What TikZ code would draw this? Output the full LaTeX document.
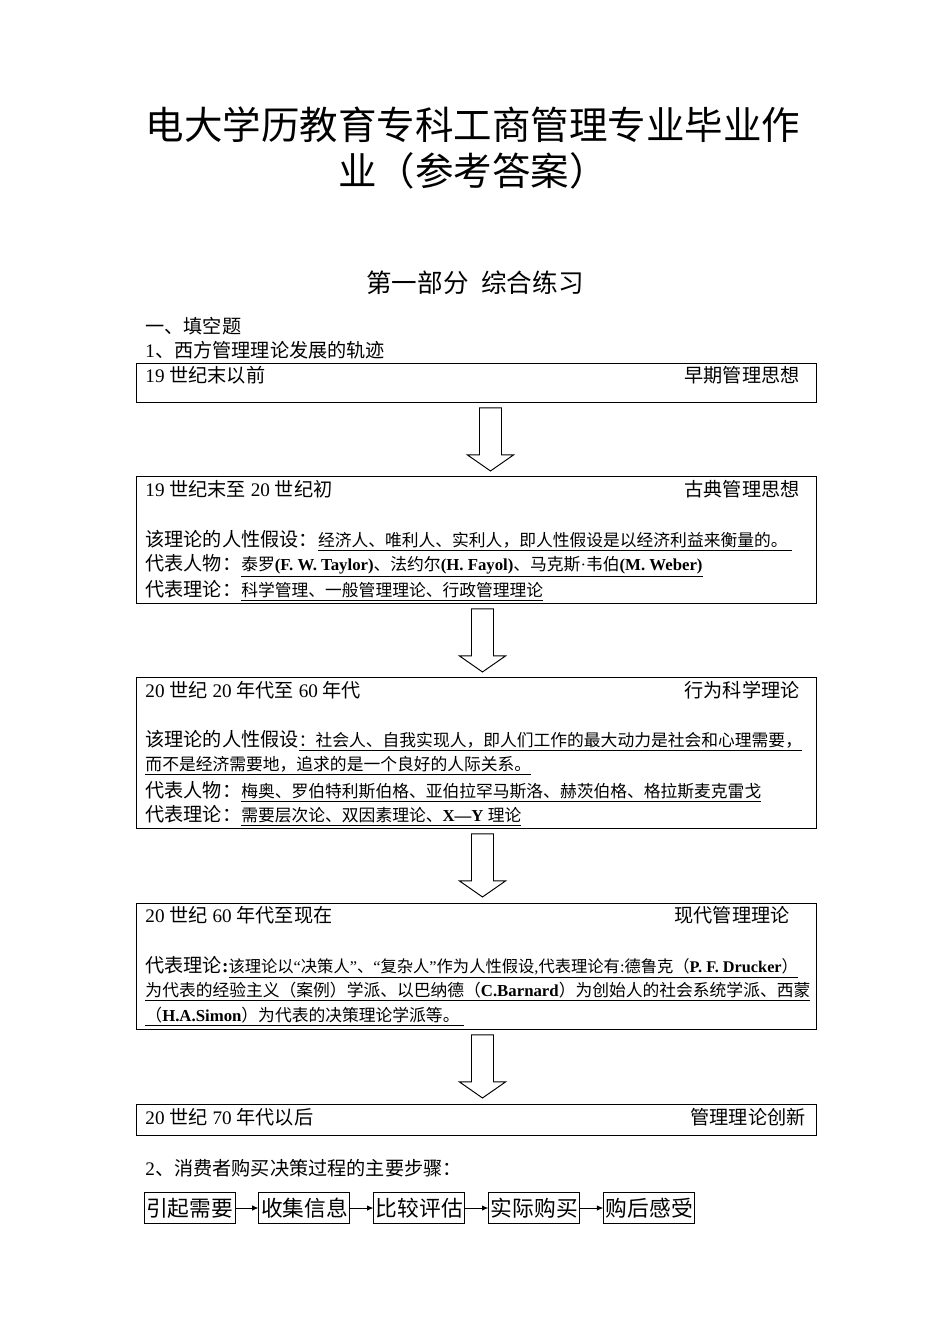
\documentclass[tikz,border=0pt]{standalone}
\usepackage{fontspec}
\setmainfont{Liberation Serif}
\newfontfamily\cjk{Noto Sans CJK SC}
\usetikzlibrary{positioning,calc,arrows.meta}

\newcommand{\px}{0.626pt}
\newcommand{\lat}[1]{{\rmfamily #1}}
\newcommand{\ans}[1]{{\fontsize{10.5}{12}\selectfont\underline{#1}}}

\begin{document}
\begin{tikzpicture}[
    x=0.626pt, y=-0.626pt,
    line width=0.6pt,
    node distance=14.4pt,
    txt/.style={anchor=west, inner sep=0pt, font=\cjk\fontsize{12}{14}\selectfont},
    school/.style={txt, anchor=east},
    era/.style={draw, anchor=north west, inner sep=0pt, minimum width=680*\px},
    stepbox/.style={draw, inner sep=0.5pt, minimum width=91*\px, minimum height=31*\px,
        font=\cjk\fontsize{13.6}{15}\selectfont}
]
    \useasboundingbox (0,0) rectangle (950,1344);

    % Title
    \node[align=center, font=\cjk\fontsize{24.1}{29.4}\selectfont] (title) at (473,148)
        {电大学历教育专科工商管理专业毕业作\\业（参考答案）};
    \node[font=\cjk\fontsize{16}{18}\selectfont] (part) at (475,283) {第一部分\hspace{0.5em}综合练习};
    \node[txt] (fill_in) at (145,326) {一、填空题};
    \node[txt] (q_one) at (145,350) {\lat{1}、西方管理理论发展的轨迹};

    % Eras
    \node[era, minimum height=39*\px] (era1) at (136,363) {};
    \node[era, minimum height=127*\px] (era2) at (136,476) {};
    \node[era, minimum height=151*\px] (era3) at (136,677) {};
    \node[era, minimum height=126*\px] (era4) at (136,903) {};
    \node[era, minimum height=31*\px] (era5) at (136,1104) {};

    % Era texts
    \node[txt] (era1_time) at (145,375) {\lat{19 }世纪末以前};
    \node[school] (era1_school) at (800,375) {早期管理思想};

    \node[txt] (era2_time) at (145,489) {\lat{19 }世纪末至\lat{ 20 }世纪初};
    \node[school] (era2_school) at (800,489) {古典管理思想};
    \node[txt] (era2_hyp) at (145,541) {该理论的人性假设：\ans{经济人、唯利人、实利人，即人性假设是以经济利益来衡量的。\hspace{3pt}}};
    \node[txt] (era2_people) at (145,566) {代表人物：\ans{泰罗\lat{\textbf{(F. W. Taylor)}}、法约尔\lat{\textbf{(H. Fayol)}}、马克斯\lat{·}韦伯\lat{\textbf{(M. Weber)}}}};
    \node[txt] (era2_theory) at (145,591) {代表理论：\ans{科学管理、一般管理理论、行政管理理论}};

    \node[txt] (era3_time) at (145,690) {\lat{20 }世纪\lat{ 20 }年代至\lat{ 60 }年代};
    \node[school] (era3_school) at (800,690) {行为科学理论};
    \node[txt] (era3_hyp) at (145,741) {该理论的人性假设\ans{：社会人、自我实现人，即人们工作的最大动力是社会和心理需要，}};
    \node[txt] (era3_hyp_b) at (145,766) {\ans{而不是经济需要地，追求的是一个良好的人际关系。}};
    \node[txt] (era3_people) at (145,792) {代表人物：\ans{梅奥、罗伯特利斯伯格、亚伯拉罕马斯洛、赫茨伯格、格拉斯麦克雷戈}};
    \node[txt] (era3_theory) at (145,816) {代表理论：\ans{需要层次论、双因素理论、\lat{\textbf{X—Y} }理论}};

    \node[txt] (era4_time) at (145,915) {\lat{20 }世纪\lat{ 60 }年代至现在};
    \node[school] (era4_school) at (790,915) {现代管理理论};
    \node[txt] (era4_theory) at (145,967) {代表理论\lat{\textbf{:}}{\fontsize{10.2}{12}\selectfont\underline{该理论以\lat{“}决策人\lat{”}、\lat{“}复杂人\lat{”}作为人性假设\lat{,}代表理论有\lat{:}德鲁克（\lat{\textbf{P. F. Drucker}}）}}};
    \node[txt] (era4_theory_b) at (145,992) {\ans{为代表的经验主义（案例）学派、以巴纳德（\lat{\textbf{C.Barnard}}）为创始人的社会系统学派、西蒙}};
    \node[txt] (era4_theory_c) at (145,1017) {\ans{（\lat{\textbf{H.A.Simon}}）为代表的决策理论学派等。\hspace{3pt}}};

    \node[txt] (era5_time) at (145,1117) {\lat{20 }世纪\lat{ 70 }年代以后};
    \node[school] (era5_school) at (806,1117) {管理理论创新};

    % Hollow arrows
    \foreach \a/\b/\dx in {era1/era2/14, era2/era3/6, era3/era4/6, era4/era5/6}
        \draw ($(\a.south)+(\dx-11,5)$) -- ++(22,0) -- ++(0,47) -- ++(12,0)
            -- ++(-23,16) -- ++(-23,-16) -- ++(12,0) -- cycle;

    % Buying steps
    \node[txt] (q_two) at (145,1168) {\lat{2}、消费者购买决策过程的主要步骤：};
    \node[stepbox] (need) at (189.5,1208) {引起需要};
    \node[stepbox, right=of need] (search) {收集信息};
    \node[stepbox, right=of search] (compare) {比较评估};
    \node[stepbox, right=of compare] (buy) {实际购买};
    \node[stepbox, right=of buy] (feel) {购后感受};

    \path[-{Latex[length=4pt,width=3.4pt]}]
        (need) edge (search)
        (search) edge (compare)
        (compare) edge (buy)
        (buy) edge (feel);
\end{tikzpicture}
\end{document}
